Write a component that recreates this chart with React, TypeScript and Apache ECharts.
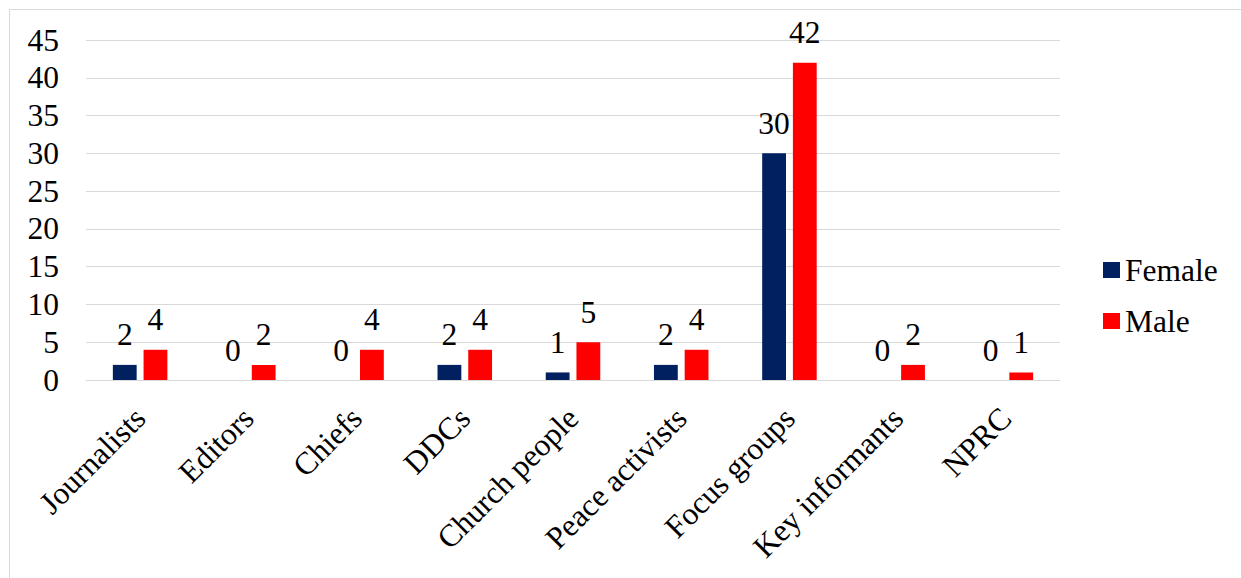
import React, { useEffect, useRef } from "react";
import * as echarts from "echarts";

const categories = [
  "Journalists",
  "Editors",
  "Chiefs",
  "DDCs",
  "Church people",
  "Peace activists",
  "Focus groups",
  "Key informants",
  "NPRC",
];
const femaleValues = [2, 0, 0, 2, 1, 2, 30, 0, 0];
const maleValues = [4, 2, 4, 4, 5, 4, 42, 2, 1];

const FONT = "Liberation Serif";
const FS = 31.5;

export default function App() {
  const ref = useRef<HTMLDivElement>(null);

  useEffect(() => {
    if (!ref.current) return;
    const chart = echarts.init(ref.current, null, { renderer: "svg" });
    const labelStyle = {
      show: true,
      position: "top" as const,
      distance: 14,
      color: "#000",
      fontFamily: FONT,
      fontSize: FS,
    };
    chart.setOption({
      animation: false,
      backgroundColor: "#fff",
      textStyle: { fontFamily: FONT },
      graphic: [
        {
          type: "rect",
          shape: { x: 9.5, y: 9.5, width: 1250, height: 600 },
          style: { fill: "none", stroke: "#d9d9d9", lineWidth: 1 },
          silent: true,
        },
      ],
      grid: { left: 86, right: 181, top: 40, bottom: 198 },
      legend: {
        orient: "vertical",
        left: 1103,
        top: 254,
        padding: 0,
        icon: "rect",
        itemWidth: 17,
        itemHeight: 16,
        itemGap: 19,
        textStyle: { fontFamily: FONT, fontSize: FS, color: "#000" },
        data: ["Female", "Male"],
      },
      xAxis: {
        type: "category",
        data: categories,
        axisLine: { lineStyle: { color: "#d9d9d9", width: 1 } },
        axisTick: { show: false },
        axisLabel: {
          rotate: 45,
          interval: 0,
          margin: 33,
          color: "#000",
          fontFamily: FONT,
          fontSize: FS,
        },
      },
      yAxis: {
        type: "value",
        min: 0,
        max: 45,
        interval: 5,
        axisLine: { show: false },
        axisTick: { show: false },
        splitLine: { lineStyle: { color: "#d9d9d9", width: 1 } },
        axisLabel: {
          margin: 27,
          color: "#000",
          fontFamily: FONT,
          fontSize: FS,
        },
      },
      series: [
        {
          name: "Female",
          type: "bar",
          data: femaleValues,
          barWidth: "22%",
          barGap: "29%",
          itemStyle: { color: "#002060" },
          label: labelStyle,
        },
        {
          name: "Male",
          type: "bar",
          data: maleValues,
          barWidth: "22%",
          itemStyle: { color: "#ff0000" },
          label: labelStyle,
        },
      ],
    });
    return () => chart.dispose();
  }, []);

  return (
    <div
      ref={ref}
      style={{ position: "absolute", left: 0, top: 0, width: 1241, height: 578 }}
    />
  );
}
